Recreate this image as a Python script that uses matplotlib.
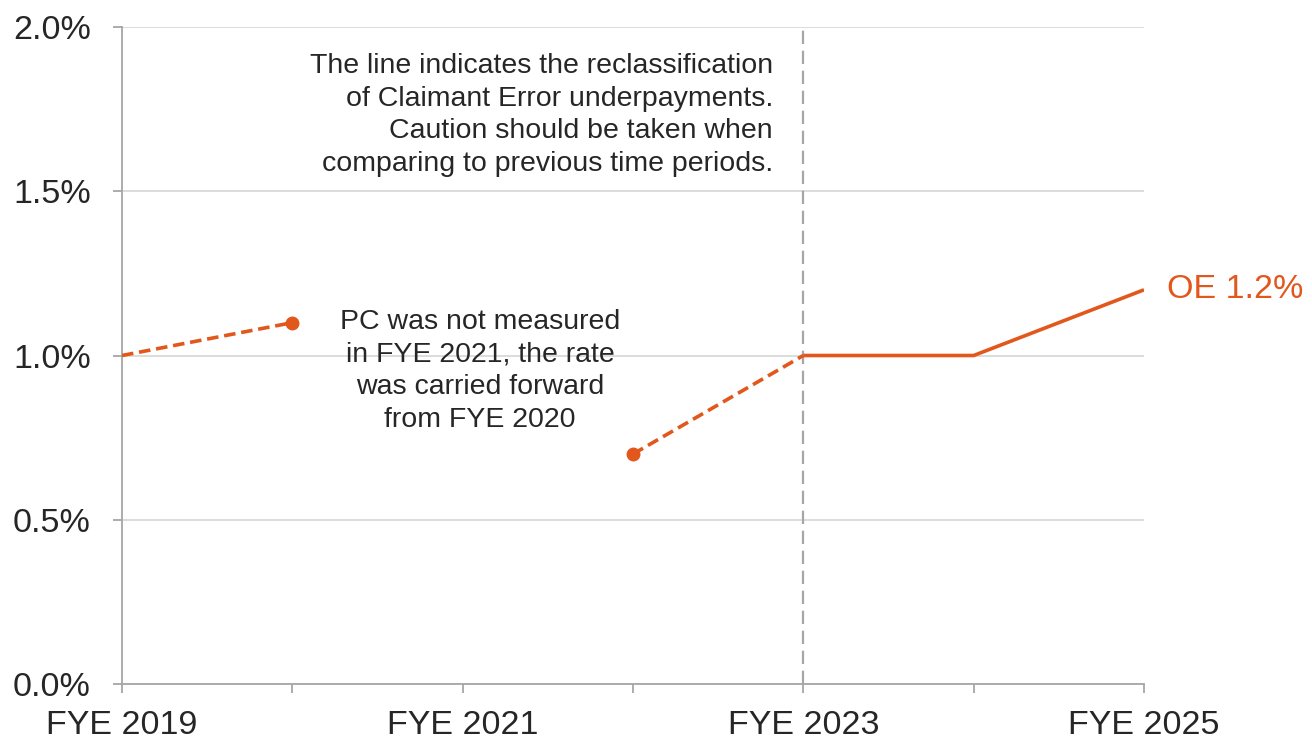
import numpy as np
import matplotlib
matplotlib.use("Agg")
import matplotlib.pyplot as plt
from matplotlib.ticker import FuncFormatter

plt.rcParams['font.family'] = ['Liberation Sans', 'DejaVu Sans']

# Official error rate by financial year end (%); FYE 2021 not measured
years = ["FYE 2019", "FYE 2020", "FYE 2021", "FYE 2022", "FYE 2023", "FYE 2024", "FYE 2025"]
rates = [1.0, 1.1, np.nan, 0.7, 1.0, 1.0, 1.2]
y_ticks = [0.0, 0.5, 1.0, 1.5, 2.0]
reclass_year = "FYE 2023"
end_label = "OE 1.2%"

ORANGE = "#E2571C"
TEXT = "#262626"
AXIS = "#A6A6A6"
GRID = "#D9D9D9"

fig = plt.figure(figsize=(13.12, 7.39), dpi=100)
ax = fig.add_axes([122 / 1312, 55 / 739, (1144 - 122) / 1312, (684 - 27) / 739])

x = np.arange(len(years))
r = np.array(rates)
i_reclass = years.index(reclass_year)

# Pre-reclassification periods drawn dashed, later periods solid
lw = 2.6
ax.plot(x[0:2], r[0:2], color=ORANGE, lw=lw, ls=(0, (3.2, 1.6)), zorder=3)
ax.plot(x[3:i_reclass + 1], r[3:i_reclass + 1], color=ORANGE, lw=lw, ls=(0, (3.2, 1.6)), zorder=3)
ax.plot(x[i_reclass:], r[i_reclass:], color=ORANGE, lw=lw, solid_capstyle='butt', zorder=3)
ax.plot([x[1], x[3]], [r[1], r[3]], ls='none', marker='o', ms=9, color=ORANGE, zorder=4)

# Reclassification marker
ax.axvline(i_reclass, color=AXIS, lw=1.6, ls=(0, (6, 3)), zorder=2)

ax.set_xlim(0, len(years) - 1)
ax.set_ylim(0, 2.0)
ax.set_yticks(y_ticks)
ax.yaxis.set_major_formatter(FuncFormatter(lambda v, p: f"{v:.1f}%"))
ax.set_xticks(x)
ax.set_xticklabels([y if i % 2 == 0 else "" for i, y in enumerate(years)])

ax.grid(axis='y', color=GRID, lw=1.3, zorder=0)
ax.set_axisbelow(True)
for s in ['top', 'right']:
    ax.spines[s].set_visible(False)
for s in ['left', 'bottom']:
    ax.spines[s].set_color(AXIS)
    ax.spines[s].set_linewidth(1.3)

ax.tick_params(axis='y', length=6.5, width=1.3, color=AXIS, pad=16, labelsize=24.5, labelcolor=TEXT)
ax.tick_params(axis='x', length=6.5, width=1.3, color=AXIS, pad=12, labelsize=24.5, labelcolor=TEXT)

# End-of-series label
ax.annotate(end_label, xy=(x[-1], r[-1]), xytext=(23, 0), textcoords='offset pixels',
            ha='left', va='center', fontsize=24.5, color=ORANGE, annotation_clip=False)

ax.text(773 / 1312, 1 - 115 / 739,
        "The line indicates the reclassification\nof Claimant Error underpayments.\n"
        "Caution should be taken when\ncomparing to previous time periods.",
        transform=fig.transFigure, ha='right', va='center', fontsize=20.5,
        color=TEXT, multialignment='right', linespacing=1.32)

ax.text(480 / 1312, 1 - 371 / 739,
        "PC was not measured\nin FYE 2021, the rate\nwas carried forward\nfrom FYE 2020",
        transform=fig.transFigure, ha='center', va='center', fontsize=20.5,
        color=TEXT, multialignment='center', linespacing=1.32)

fig.savefig("out.png", dpi=100, facecolor='white')
